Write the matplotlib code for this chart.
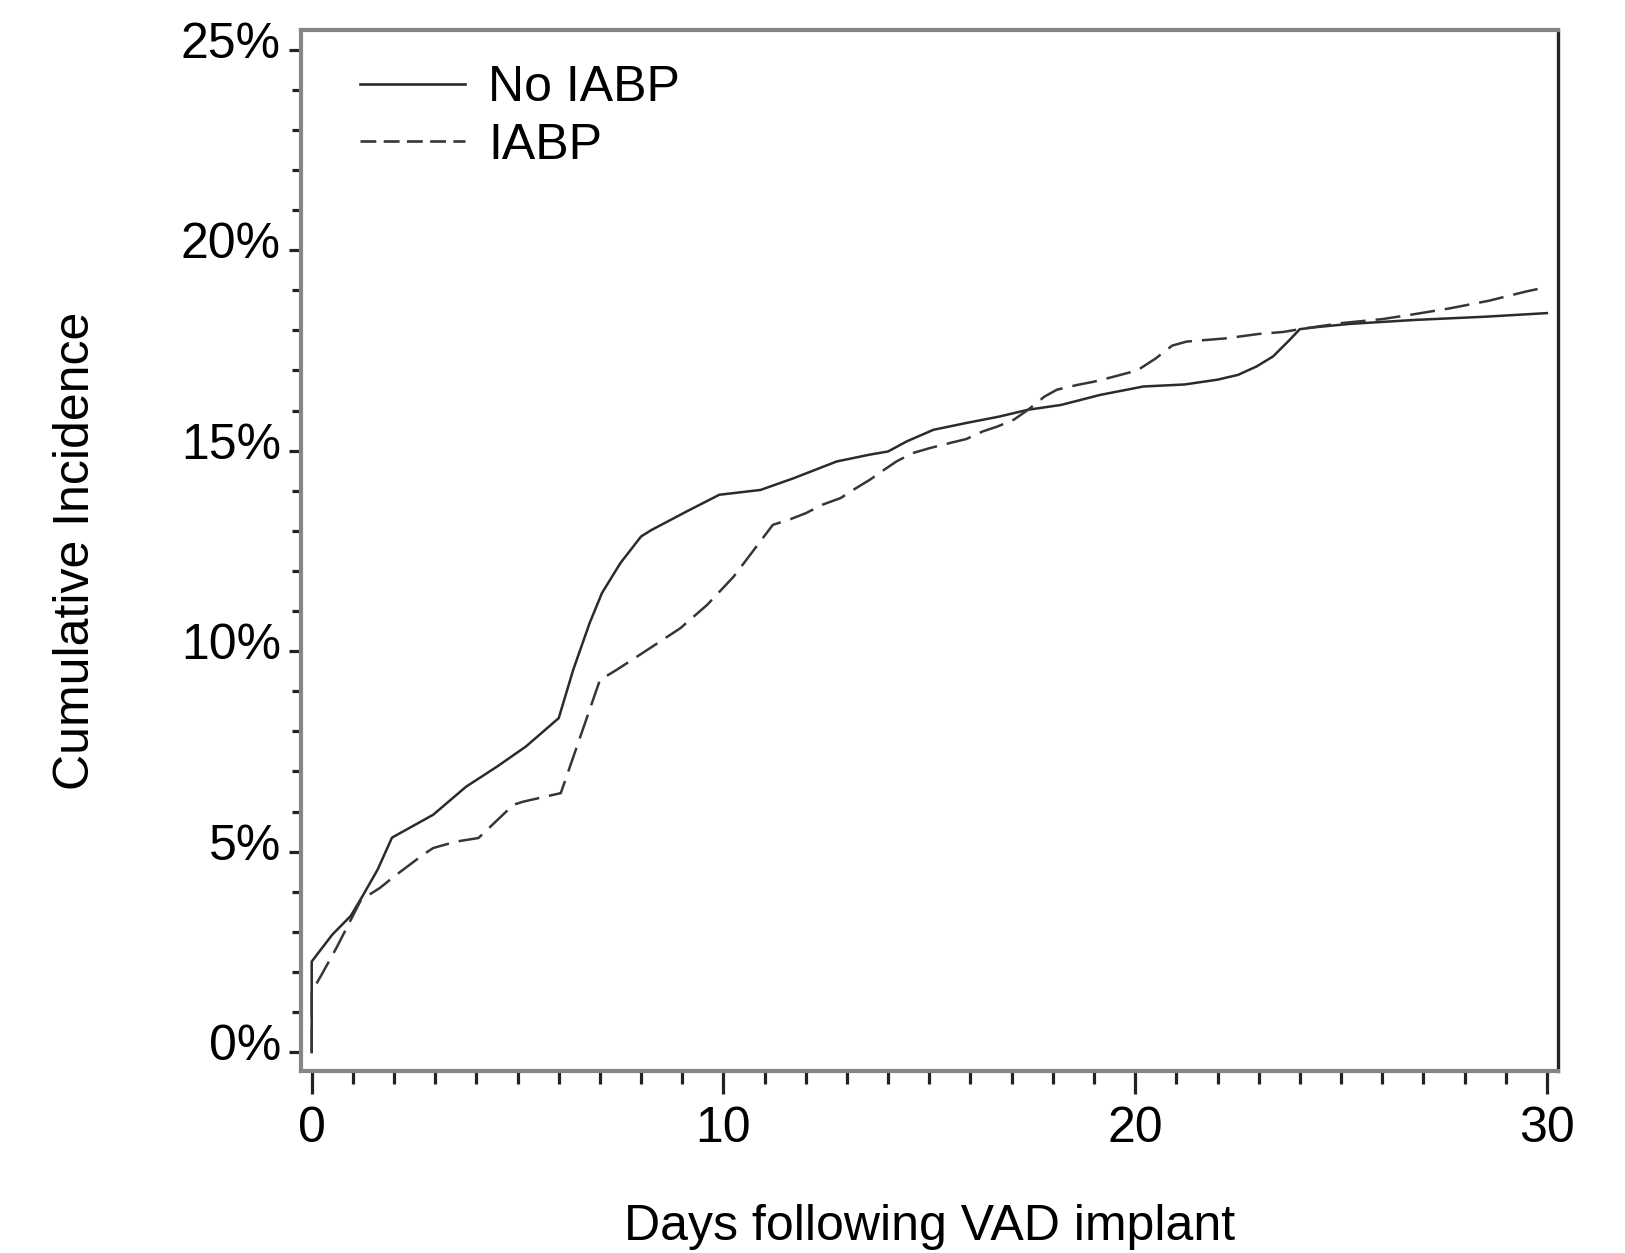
import matplotlib
matplotlib.use("Agg")
import matplotlib.pyplot as plt
from matplotlib.ticker import MultipleLocator, FuncFormatter
from matplotlib.lines import Line2D
from matplotlib.transforms import ScaledTranslation

# Cumulative incidence (%) by days after VAD implant
no_iabp_days = [0, 0, 0.5, 0.95, 1.25, 1.6, 1.95, 2.95, 3.75, 4.5, 5.2, 6.0,
                6.35, 6.75, 7.05, 7.5, 8.0, 8.25, 9.1, 9.9, 10.9, 11.7, 12.75,
                13.55, 14.0, 14.45, 15.1, 15.9, 16.7, 17.4, 18.2, 19.15, 20.2,
                21.2, 22.0, 22.5, 22.95, 23.35, 23.75, 24.0, 24.4, 25.2, 26.8,
                28.5, 30.0]
no_iabp_pct = [0, 2.26, 2.93, 3.4, 3.92, 4.55, 5.35, 5.92, 6.62, 7.12, 7.62, 8.33,
               9.53, 10.7, 11.45, 12.2, 12.86, 13.02, 13.48, 13.9, 14.02, 14.31, 14.73,
               14.9, 14.98, 15.23, 15.52, 15.69, 15.85, 16.02, 16.14, 16.39, 16.6,
               16.65, 16.77, 16.89, 17.1, 17.35, 17.76, 18.03, 18.08, 18.16, 18.26,
               18.34, 18.43]

iabp_days = [0, 0, 0.25, 0.6, 0.95, 1.2, 1.65, 2.0, 2.7, 2.95, 3.5, 4.05, 4.9,
             5.15, 6.05, 7.0, 7.4, 8.15, 8.95, 9.6, 10.25, 11.2, 11.6, 12.0, 12.4,
             12.85, 13.15, 13.55, 13.9, 14.2, 14.6, 15.0, 15.5, 15.9, 16.3, 16.65,
             17.05, 17.4, 17.8, 18.1, 18.6, 19.0, 19.5, 20.05, 20.5, 20.9, 21.25,
             22.2, 23.0, 23.6, 24.0, 25.0, 26.0, 26.7, 27.65, 28.6, 29.5, 30.0]
iabp_pct = [0, 1.5, 1.95, 2.6, 3.3, 3.8, 4.09, 4.38, 4.92, 5.09, 5.25, 5.34, 6.17,
            6.25, 6.46, 9.28, 9.53, 10.03, 10.57, 11.15, 11.86, 13.15, 13.28, 13.44,
            13.65, 13.82, 14.02, 14.27, 14.52, 14.73, 14.94, 15.06, 15.19, 15.29,
            15.48, 15.6, 15.77, 16.02, 16.35, 16.52, 16.64, 16.72, 16.85, 17.0, 17.3,
            17.62, 17.72, 17.8, 17.91, 17.96, 18.03, 18.18, 18.28, 18.39, 18.55,
            18.74, 18.97, 19.08]

series_labels = ["No IABP", "IABP"]
x_label = "Days following VAD implant"
y_label = "Cumulative Incidence"

plt.rcParams["font.family"] = ["Liberation Sans", "DejaVu Sans"]
FS = 36
LINE_DARK = "#2b2b2b"
LINE_DASH = "#363636"

fig = plt.figure(figsize=(16.25, 12.53), dpi=100)
ax = fig.add_axes([0.18523, 0.14525, 0.77354, 0.83081])

ax.plot(no_iabp_days, no_iabp_pct, color=LINE_DARK, lw=1.8,
        solid_joinstyle="round")
ax.plot(iabp_days, iabp_pct, color=LINE_DASH, lw=1.8,
        linestyle=(0, (10, 4)))

ax.set_xlim(-0.26, 30.27)
ax.set_ylim(-0.47, 25.49)

ax.xaxis.set_major_locator(MultipleLocator(10))
ax.xaxis.set_minor_locator(MultipleLocator(1))
ax.yaxis.set_major_locator(MultipleLocator(5))
ax.yaxis.set_minor_locator(MultipleLocator(1))
ax.yaxis.set_major_formatter(FuncFormatter(lambda v, p: f"{v:.0f}%"))

ax.tick_params(axis="x", which="major", length=16.5, width=2.3, color="#222222",
               direction="out", labelsize=FS, pad=9)
ax.tick_params(axis="x", which="minor", length=9.5, width=2.3, color="#222222",
               direction="out")
ax.tick_params(axis="y", which="major", length=8.5, width=2.3, color="#222222",
               direction="out", labelsize=FS, pad=6)
ax.tick_params(axis="y", which="minor", length=6.5, width=2.3, color="#222222",
               direction="out")

# y tick labels sit slightly above their ticks
lift = ScaledTranslation(0, 7 / 72, fig.dpi_scale_trans)
for lbl in ax.get_yticklabels():
    lbl.set_transform(lbl.get_transform() + lift)

for side in ("left", "bottom", "top"):
    ax.spines[side].set_color("#858585")
    ax.spines[side].set_linewidth(3)
ax.spines["right"].set_color("#252525")
ax.spines["right"].set_linewidth(2.4)

ax.set_xlabel(x_label, fontsize=FS, labelpad=37)
ax.set_ylabel(y_label, fontsize=FS, labelpad=59)

# legend keys use a shorter dash than the plotted curve
key_solid = Line2D([], [], color=LINE_DARK, lw=1.9)
key_dash = Line2D([], [], color=LINE_DASH, lw=1.9, linestyle=(0, (6, 2.8)))
ax.legend([key_solid, key_dash], series_labels, loc="upper left",
          bbox_to_anchor=(0.047, 0.966), frameon=False, fontsize=FS,
          handlelength=2.1, handletextpad=0.46, labelspacing=0.23,
          borderaxespad=0, borderpad=0)

fig.savefig("out.png", dpi=100, facecolor="white")
